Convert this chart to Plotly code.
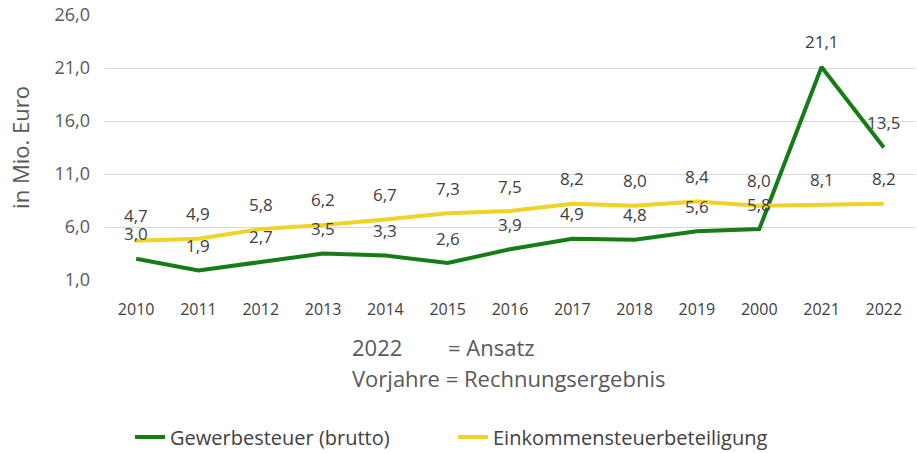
import plotly.graph_objects as go

years = ["2010", "2011", "2012", "2013", "2014", "2015", "2016", "2017", "2018", "2019", "2000", "2021", "2022"]
gewerbesteuer = [3.0, 1.9, 2.7, 3.5, 3.3, 2.6, 3.9, 4.9, 4.8, 5.6, 5.8, 21.1, 13.5]
einkommensteuer = [4.7, 4.9, 5.8, 6.2, 6.7, 7.3, 7.5, 8.2, 8.0, 8.4, 8.0, 8.1, 8.2]
y_ticks = [1, 6, 11, 16, 21, 26]

GREEN = "#167c16"
YELLOW = "#f1d227"
TXT = "#404040"
GREY = "#595959"
FONT = "Open Sans"

L, R, T, B = 105, 2, 15, 173
PW = 917 - L - R
PH = 453 - T - B

def px_x(p):
    return (p - L) / PW

def px_y(p):
    return (453 - B - p) / PH

fig = go.Figure()
fig.add_trace(go.Scatter(x=years, y=gewerbesteuer, mode="lines", name="Gewerbesteuer (brutto)",
                         line=dict(color=GREEN, width=4)))
fig.add_trace(go.Scatter(x=years, y=einkommensteuer, mode="lines", name="Einkommensteuerbeteiligung",
                         line=dict(color=YELLOW, width=4)))

def fmt(v):
    return f"{v:.1f}".replace(".", ",")

for series in (gewerbesteuer, einkommensteuer):
    for i, yv in enumerate(series):
        fig.add_annotation(x=i, y=yv, xref="x", yref="y", text=fmt(yv), showarrow=False, yshift=25,
                           font=dict(family=FONT, size=17, color=TXT))

fig.add_annotation(xref="paper", yref="paper", x=px_x(350), y=px_y(347),
                   text="2022", showarrow=False, xanchor="left", yanchor="middle",
                   font=dict(family=FONT, size=22, color=GREY))
fig.add_annotation(xref="paper", yref="paper", x=px_x(446), y=px_y(347),
                   text="= Ansatz", showarrow=False, xanchor="left", yanchor="middle",
                   font=dict(family=FONT, size=22, color=GREY))
fig.add_annotation(xref="paper", yref="paper", x=px_x(350), y=px_y(378),
                   text="Vorjahre = Rechnungsergebnis", showarrow=False, xanchor="left", yanchor="middle",
                   font=dict(family=FONT, size=22, color=GREY))

fig.update_layout(
    width=917, height=453,
    margin=dict(l=L, r=R, t=T, b=B, autoexpand=False),
    paper_bgcolor="white", plot_bgcolor="white",
    separators=",.",
    showlegend=True,
    legend=dict(orientation="h", x=px_x(130), xanchor="left", y=px_y(437), yanchor="middle",
                font=dict(family=FONT, size=20, color=TXT), itemwidth=30, tracegroupgap=0,
                entrywidth=278),
    font=dict(family=FONT, color=TXT),
)
fig.update_xaxes(type="category", range=[-0.5, len(years) - 0.5], showgrid=False, zeroline=False,
                 showline=False, automargin=False,
                 tickfont=dict(family=FONT, size=16, color=TXT), ticks="", ticklabelstandoff=18)
fig.update_yaxes(range=[1, 26], tickvals=y_ticks, tickformat=".1f", showgrid=True, automargin=False,
                 gridcolor="#d9d9d9", gridwidth=1, zeroline=False, showline=False,
                 tickfont=dict(family=FONT, size=18, color=GREY), ticks="", ticklabelstandoff=14,
                 title=dict(text="in Mio. Euro", font=dict(family=FONT, size=22, color=GREY), standoff=18))

fig.write_html("out.html", config={"displayModeBar": False},
               post_script="document.body.style.margin='0';")
